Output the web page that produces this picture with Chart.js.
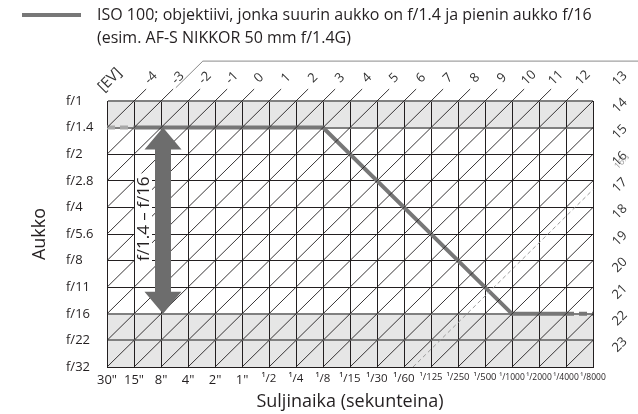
<!DOCTYPE html>
<html>
<head>
<meta charset="utf-8">
<script src="https://cdn.jsdelivr.net/npm/chart.js"></script>
<style>
  html, body { margin: 0; padding: 0; background: #fff; }
  #wrap { width: 638px; height: 414px; }
</style>
</head>
<body>
<div id="wrap"><canvas id="evChart" width="638" height="414"></canvas></div>
<script>
// axis categories
const shutterLabels = ['30"', '15"', '8"', '4"', '2"', '1"', '¹/2', '¹/4', '¹/8', '¹/15', '¹/30', '¹/60',
  '¹/125', '¹/250', '¹/500', '¹/1000', '¹/2000', '¹/4000', '¹/8000'];
const apertureLabels = ['f/1', 'f/1.4', 'f/2', 'f/2.8', 'f/4', 'f/5.6', 'f/8', 'f/11', 'f/16', 'f/22', 'f/32'];

// EV lines (EV at f/1 and 30" is -5)
const evAtOrigin = -5;
const evValues = [-4, -3, -2, -1, 0, 1, 2, 3, 4, 5, 6, 7, 8, 9, 10, 11, 12, 13,
  14, 15, 16, 17, 18, 19, 20, 21, 22, 23];
const dashedEv = 16 + 1 / 3;
const dashedEvLabel = '16⅓';

// program line, ISO 100, f/1.4 - f/16 lens
const programShutter = ['30"', '15"', '¹/8', '¹/1000', '¹/4000', '¹/8000'];
const programAperture = ['f/1.4', 'f/1.4', 'f/1.4', 'f/16', 'f/16', 'f/16'];

// apertures outside the lens range (shaded)
const shadedBands = [['f/1', 'f/1.4'], ['f/16', 'f/32']];
const lensRange = ['f/1.4', 'f/16'];
const lensRangeLabel = 'f/1.4 – f/16';
const arrowShutter = '8"';

const legendText = ['ISO 100; objektiivi, jonka suurin aukko on f/1.4 ja pienin aukko f/16',
  '(esim. AF-S NIKKOR 50 mm f/1.4G)'];

const FONT = '"Open Sans"';
const INK = '#231f20';
const nCols = shutterLabels.length - 1;
const nRows = apertureLabels.length - 1;

// end points of an EV line on the grid, plus the short stub outside it
function evLine(ev) {
  const k = ev - evAtOrigin;
  const start = k <= nRows ? { x: 0, y: k } : { x: k - nRows, y: nRows };
  const exit = k < nCols ? { x: k, y: 0 } : { x: nCols, y: k - nCols };
  const stub = k < nCols ? 0.45 : 0.6;
  return [start, exit, { x: exit.x + stub, y: exit.y - stub }];
}

const datasets = evValues.map(ev => ({
  label: 'EV ' + ev,
  data: evLine(ev),
  borderColor: INK,
  borderWidth: 0.9,
  pointRadius: 0,
  clip: false
}));

datasets.push({
  label: 'EV ' + dashedEvLabel,
  data: evLine(dashedEv),
  borderColor: '#9a9a9a',
  borderWidth: 1,
  borderDash: [4, 3],
  pointRadius: 0,
  clip: false
});

const lastSeg = programShutter.length - 2;
datasets.push({
  label: legendText[0],
  data: programShutter.map((s, i) => ({ x: shutterLabels.indexOf(s), y: apertureLabels.indexOf(programAperture[i]) })),
  borderColor: '#777',
  borderWidth: 4,
  pointRadius: 0,
  borderCapStyle: 'butt',
  borderJoinStyle: 'miter',
  segment: {
    borderDash: c => (c.p0DataIndex === 0 || c.p0DataIndex === lastSeg) ? [8, 5] : undefined,
    borderColor: c => c.p0DataIndex === 0 ? '#a8a8a8' : undefined
  }
});

const decor = {
  id: 'decor',
  beforeDraw(chart) {
    const { ctx, scales: { x, y } } = chart;
    ctx.save();
    ctx.fillStyle = '#fff';
    ctx.fillRect(0, 0, chart.width, chart.height);
    ctx.fillStyle = '#e6e6e6';
    shadedBands.forEach(([a, b]) => {
      const y0 = y.getPixelForValue(apertureLabels.indexOf(a));
      const y1 = y.getPixelForValue(apertureLabels.indexOf(b));
      ctx.fillRect(x.left, y0, x.right - x.left, y1 - y0);
    });
    ctx.restore();
  },
  afterDatasetsDraw(chart) {
    const { ctx, scales: { x, y } } = chart;
    ctx.save();

    // box top edge
    ctx.strokeStyle = '#8a8a8a';
    ctx.lineWidth = 1;
    ctx.beginPath();
    ctx.moveTo(x.getPixelForValue(2.55), y.getPixelForValue(-0.5));
    ctx.lineTo(x.getPixelForValue(3.55), y.getPixelForValue(-1.5));
    ctx.lineTo(chart.width, y.getPixelForValue(-1.5));
    ctx.stroke();

    // EV numbers
    ctx.fillStyle = '#333';
    ctx.font = '13px ' + FONT;
    ctx.textAlign = 'center';
    ctx.textBaseline = 'middle';
    const rotText = (txt, px, py) => {
      ctx.save();
      ctx.translate(px, py);
      ctx.rotate(-Math.PI / 4);
      ctx.fillText(txt, 0, 0);
      ctx.restore();
    };
    evValues.forEach(ev => {
      const e = evLine(ev)[1];
      const px = x.getPixelForValue(e.x);
      const py = y.getPixelForValue(e.y);
      const top = ev - evAtOrigin < nCols;
      rotText(String(ev), px + (top ? 17 : 27), py - (top ? 23 : 22));
    });
    ctx.font = '15px ' + FONT;
    rotText('[EV]', 110, 80);
    const d = evLine(dashedEv)[1];
    ctx.fillStyle = '#999';
    ctx.font = '9px ' + FONT;
    rotText(dashedEvLabel, x.getPixelForValue(d.x) + 29, y.getPixelForValue(d.y) - 28);

    // lens aperture range arrow
    const ax = x.getPixelForValue(shutterLabels.indexOf(arrowShutter)) + 2;
    const yTop = y.getPixelForValue(apertureLabels.indexOf(lensRange[0]));
    const yBot = y.getPixelForValue(apertureLabels.indexOf(lensRange[1]));
    const head = 22, half = 18.5, shaft = 8;
    ctx.fillStyle = '#6d6d6d';
    ctx.beginPath();
    ctx.moveTo(ax, yTop);
    ctx.lineTo(ax + half, yTop + head);
    ctx.lineTo(ax + shaft, yTop + head);
    ctx.lineTo(ax + shaft, yBot - head);
    ctx.lineTo(ax + half, yBot - head);
    ctx.lineTo(ax, yBot);
    ctx.lineTo(ax - half, yBot - head);
    ctx.lineTo(ax - shaft, yBot - head);
    ctx.lineTo(ax - shaft, yTop + head);
    ctx.lineTo(ax - half, yTop + head);
    ctx.closePath();
    ctx.fill();

    // range label on a white strip
    const tx = ax - 20, ty = (yTop + yBot) / 2 - 2;
    ctx.font = '17px ' + FONT;
    const tw = ctx.measureText(lensRangeLabel).width;
    ctx.fillStyle = '#fff';
    ctx.fillRect(tx - 8, ty - tw / 2 - 3, 17, tw + 6);
    ctx.save();
    ctx.translate(tx, ty);
    ctx.rotate(-Math.PI / 2);
    ctx.fillStyle = INK;
    ctx.fillText(lensRangeLabel, 0, 1);
    ctx.restore();

    // legend
    ctx.strokeStyle = '#777';
    ctx.lineWidth = 4;
    ctx.beginPath();
    ctx.moveTo(22, 15);
    ctx.lineTo(81, 15);
    ctx.stroke();
    ctx.fillStyle = INK;
    ctx.font = '16px ' + FONT;
    ctx.textAlign = 'left';
    ctx.fillText(legendText[0], 97, 15);
    ctx.fillText(legendText[1], 97, 38);
    ctx.restore();
  }
};

new Chart(document.getElementById('evChart'), {
  type: 'line',
  data: { datasets },
  options: {
    responsive: false,
    animation: false,
    layout: { padding: { top: 101, left: 66, right: 45, bottom: 0 } },
    plugins: { legend: { display: false }, tooltip: { enabled: false } },
    scales: {
      x: {
        type: 'linear', min: 0, max: nCols,
        afterFit: s => { s.height = 47; },
        ticks: {
          stepSize: 1, autoSkip: false, maxRotation: 0, padding: 5,
          color: INK,
          font: c => ({ family: FONT, size: c.index > 14 ? 8.5 : (c.index > 11 ? 9.5 : (c.index > 5 ? 11.5 : 13)) }),
          callback: v => shutterLabels[v]
        },
        grid: { color: INK, lineWidth: 1, drawTicks: false },
        border: { color: INK, width: 1 },
        title: { display: true, text: 'Suljinaika (sekunteina)', color: INK,
          font: { family: FONT, size: 18 }, padding: { top: 0, bottom: 1 } }
      },
      y: {
        type: 'linear', min: 0, max: nRows, reverse: true,
        afterFit: s => { s.width = 41; },
        ticks: {
          stepSize: 1, autoSkip: false, crossAlign: 'far', padding: 0,
          color: INK, font: { family: FONT, size: 13 },
          callback: v => apertureLabels[v]
        },
        grid: {
          drawTicks: false,
          color: c => [0, 1, 8, 9].includes(c.tick.value) ? '#808080' : INK,
          lineWidth: c => [0, 1, 8, 9].includes(c.tick.value) ? 2 : 1
        },
        border: { color: INK, width: 1 },
        title: { display: true, text: 'Aukko', color: INK,
          font: { family: FONT, size: 18 }, padding: { top: -37, bottom: 0 } }
      }
    }
  },
  plugins: [decor]
});
</script>
</body>
</html>
